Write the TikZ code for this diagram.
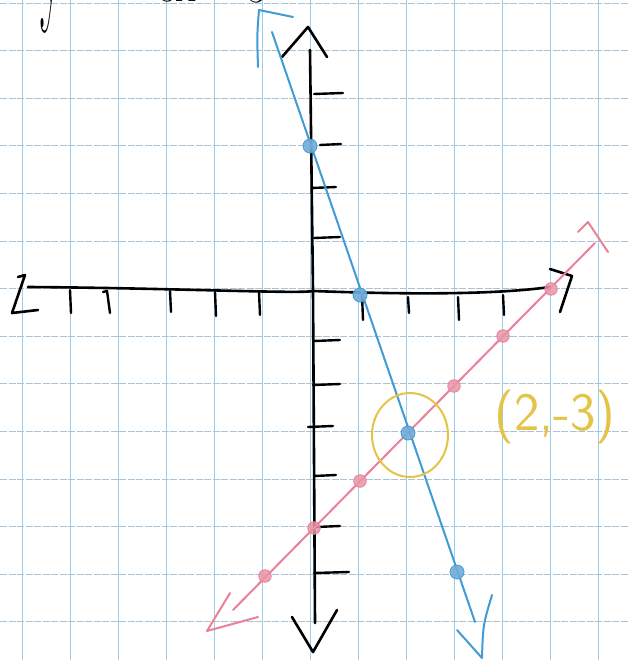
\documentclass[tikz,border=0pt]{standalone}
\usepackage{graphicx}
\definecolor{gridv}{RGB}{150,208,235}
\definecolor{gridh}{RGB}{170,195,215}
\definecolor{lineblue}{RGB}{65,155,212}
\definecolor{dotblue}{RGB}{112,172,216}
\definecolor{linepink}{RGB}{236,128,150}
\definecolor{dotpink}{RGB}{232,150,168}
\definecolor{penyellow}{RGB}{228,196,70}
\tikzset{
  gridvline/.style={gridv, line width=0.9pt},
  gridhline/.style={gridh, line width=0.8pt, dash pattern=on 7pt off 1.5pt},
  axisline/.style={black, line width=2.6pt, line cap=round, line join=round},
  tickline/.style={black, line width=2.4pt, line cap=round, line join=round},
  blueline/.style={lineblue, line width=2pt, line cap=round, line join=round},
  pinkline/.style={linepink, line width=2pt, line cap=round, line join=round},
  bluedot/.style={circle, fill=dotblue, draw=lineblue, line width=0.8pt, minimum size=14pt, inner sep=0pt, fill opacity=0.9},
  pinkdot/.style={circle, fill=dotpink, draw=linepink, line width=0.8pt, minimum size=12.5pt, inner sep=0pt, fill opacity=0.85},
  yellowpen/.style={penyellow, line width=2pt},
}
\begin{document}
\begin{tikzpicture}[x=1pt,y=-1pt]
\useasboundingbox (0,0) rectangle (628,660);
\fill[white] (0,0) rectangle (628,660);
% grid paper
\foreach \i in {0,...,12} \draw[gridvline] ({22+48*\i},0) -- ({22+48*\i},660);
\foreach \j in {0,...,13} \draw[gridhline] (0,{3+47.6*\j}) -- (628,{3+47.6*\j});
% cut-off heading at the top
\node[anchor=base, inner sep=0pt] (hy) at (52,4) {\scalebox{1}[3.2]{\fontsize{46}{46}\selectfont y}};
\node[anchor=base, inner sep=0pt] (h3x) at (177,1.5) {\fontsize{40}{40}\selectfont 3x};
\node[anchor=base, inner sep=0pt] (h3) at (257,3) {\fontsize{40}{40}\selectfont 3};
% coordinates
\coordinate (ytop) at (310,50);
\coordinate (ymid) at (313,291);
\coordinate (ybot) at (315,623);
\coordinate (xl) at (28,287);
\coordinate (xr) at (550,287);
\coordinate (btop) at (272,32);
\coordinate (bbot) at (475,622);
\coordinate (ptop) at (595,243);
\coordinate (pbot) at (233,610);
% y axis
\draw[axisline] (ytop) -- (ymid) -- (ybot);
\draw[axisline] (282,57) -- (308,27) -- (327,57);
\draw[axisline] (292,617) -- (313,652) -- (337,610);
% x axis
\draw[axisline] (xl) .. controls (170,288) and (300,294) .. (ymid) .. controls (420,295) and (500,294) .. (xr);
\draw[axisline] (18,277) -- (25,275) -- (12,313) -- (38,310);
\draw[axisline] (550,269) -- (572,276) -- (560,312);
% ticks
\foreach \x/\a/\b in {70/290/313, 170/291/312, 215/292/316, 259/292/315, 362/294/320, 408/297/313, 458/297/320, 503/295/315}
  \draw[tickline] (\x,\a) -- (\x+1,\b);
\draw[tickline] (103,292) -- (107,291) -- (110,313);
\foreach \y/\a/\b in {94/314/343, 145/320/341, 188/312/336, 238/314/340, 341/314/340, 385/313/340, 427/308/333, 476/314/336, 527/316/340, 573/314/349}
  \draw[tickline] (\a,\y) -- (\b,\y-1);
% blue line y = -3x + 3
\draw[blueline] (btop) -- (bbot);
\draw[blueline] (258,67) .. controls (257,35) .. (259,10) -- (293,17);
\draw[blueline] (457,630) -- (482,658) .. controls (483,625) .. (492,595);
% pink line y = x - 5
\draw[pinkline] (pbot) -- (ptop);
\draw[pinkline] (578,232) -- (588,222) -- (608,252);
\draw[pinkline] (230,593) -- (207,631) -- (258,617);
% points
\foreach \n/\p in {p1/{(265,576)}, p2/{(314,528)}, p3/{(360,481)}, p5/{(454,386)}, p6/{(503,336)}, p7/{(551,289)}}
  \node[pinkdot] (\n) at \p {};
\foreach \n/\p in {b1/{(310,146)}, b2/{(360,295)}, b3/{(408,433)}, b4/{(457,572)}}
  \node[bluedot] (\n) at \p {};
% solution circle and label
\draw[yellowpen] (410,435) ellipse [x radius=38, y radius=42];
\node[anchor=base, text=penyellow, inner sep=0pt, font=\sffamily\fontsize{54}{54}\selectfont] (lbl) at (555,430) {(2,-3)};
\end{tikzpicture}
\end{document}
